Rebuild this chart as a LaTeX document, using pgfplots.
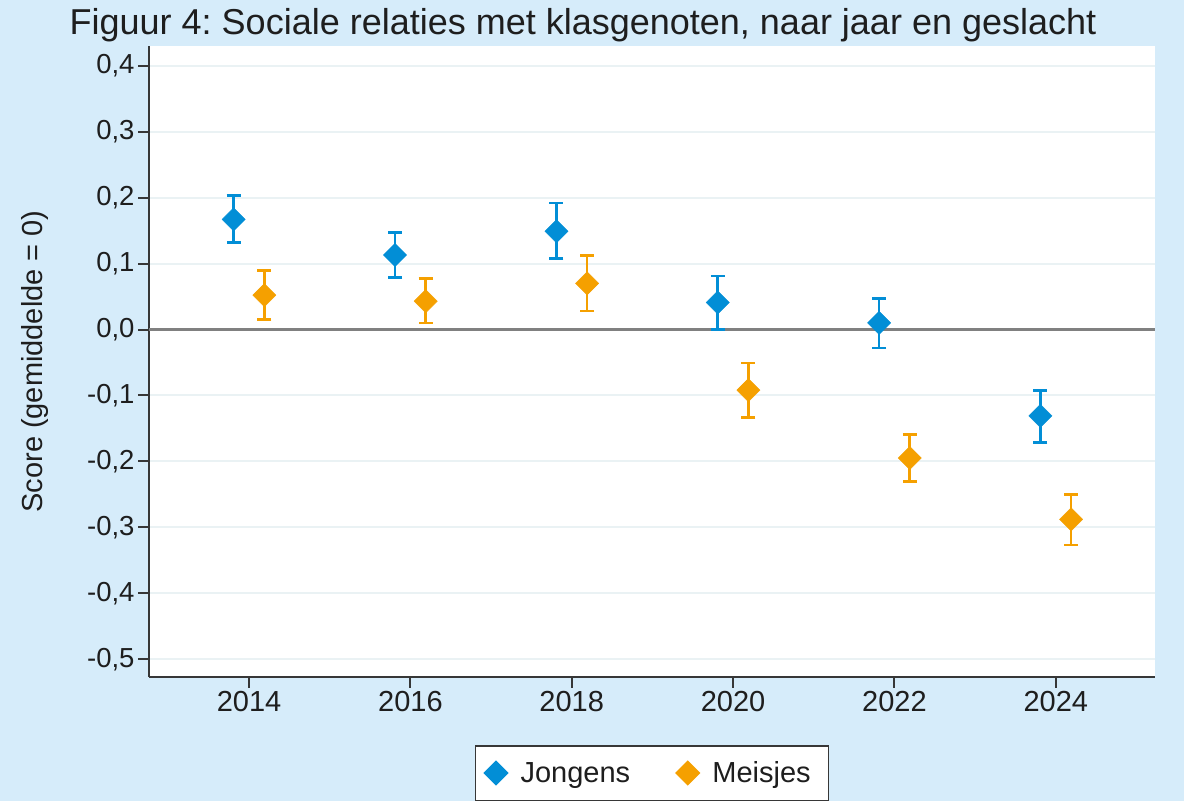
\documentclass[border=0pt]{standalone}
\usepackage{fontspec}
\setmainfont{Liberation Sans}
\usepackage{pgfplots}
\pgfplotsset{compat=1.18}
\usepackage{pgfplotstable}
\definecolor{bgblue}{RGB}{214,236,250}
\definecolor{jblue}{RGB}{2,142,214}
\definecolor{morange}{RGB}{245,160,0}
\definecolor{gridc}{RGB}{234,242,244}
\definecolor{axisc}{RGB}{55,55,55}
\definecolor{txt}{RGB}{30,30,30}

\pgfplotsset{
  diamondlegend/.style={legend image code/.code={\draw[##1] plot coordinates {(0bp,0bp)};}},
}

\pgfplotstableread{
x y ep em
2013.81 0.167 0.036 0.035
2015.81 0.113 0.034 0.034
2017.81 0.149 0.043 0.041
2019.81 0.041 0.040 0.041
2021.81 0.010 0.037 0.038
2023.81 -0.131 0.039 0.040
}\jongens

\pgfplotstableread{
x y ep em
2014.19 0.052 0.038 0.037
2016.19 0.043 0.034 0.033
2018.19 0.070 0.042 0.042
2020.19 -0.092 0.041 0.041
2022.19 -0.195 0.036 0.036
2024.19 -0.288 0.038 0.039
}\meisjes

\begin{document}
\frenchspacing
\begin{tikzpicture}[x=1bp,y=1bp]
\fill[bgblue] (0,0) rectangle (1184,801);
\node[anchor=base, font=\fontsize{36bp}{40bp}\selectfont, text=txt, inner sep=0pt] at (583,766) {Figuur 4: Sociale relaties met klasgenoten, naar jaar en geslacht};
\begin{axis}[
  at={(149bp,124bp)}, anchor=south west,
  scale only axis, width=1006bp, height=631bp,
  xmin=2012.76, xmax=2025.23, ymin=-0.527, ymax=0.43,
  axis background/.style={fill=white},
  axis lines*=left,
  axis line style={axisc, line width=2bp},
  tick align=outside,
  major tick length=11bp,
  tick style={axisc, line width=2bp},
  xtick={2014,2016,2018,2020,2022,2024},
  xticklabels={2014,2016,2018,2020,2022,2024},
  ytick={-0.5,-0.4,-0.3,-0.2,-0.1,0,0.1,0.2,0.3,0.4},
  /pgf/number format/use comma,
  /pgf/number format/fixed,
  /pgf/number format/fixed zerofill,
  /pgf/number format/precision=1,
  /pgf/number format/assume math mode=true,
  ymajorgrids,
  grid style={gridc, line width=2bp},
  x tick label style={font=\fontsize{29bp}{32bp}\selectfont, text=txt},
  y tick label style={font=\fontsize{27.5bp}{30bp}\selectfont, text=txt},
  ylabel={Score (gemiddelde = 0)},
  ylabel style={at={(axis description cs:-0.1054,0.5)}, anchor=base, rotate=0, font=\fontsize{29bp}{32bp}\selectfont, text=txt, inner sep=0pt},
  legend columns=2,
  legend style={at={(axis description cs:0.5,-0.10777)}, anchor=north, draw=axisc, line width=1.5bp, fill=white,
    font=\fontsize{29bp}{32bp}\selectfont, text=txt, inner xsep=9bp, inner ysep=1bp,
    nodes={inner xsep=9bp, inner ysep=15bp},
    /tikz/every odd column/.append style={column sep=4bp},
    /tikz/every even column/.append style={column sep=37bp}},
  clip=false,
]
\addplot[gray, line width=2.5bp, forget plot] coordinates {(2012.76,0) (2025.23,0)};
\addplot[only marks, color=jblue, mark=square*, mark size=8.2bp,
  mark options={rotate=45, draw=none, fill=jblue}, diamondlegend,
  error bars/.cd, y dir=both, y explicit,
  error bar style={line width=2.7bp, jblue},
  error mark options={rotate=90, mark size=7bp, line width=2.7bp, jblue}]
  table[x=x, y=y, y error plus=ep, y error minus=em] {\jongens};
\addlegendentry{Jongens}
\addplot[only marks, color=morange, mark=square*, mark size=8.2bp,
  mark options={rotate=45, draw=none, fill=morange}, diamondlegend,
  error bars/.cd, y dir=both, y explicit,
  error bar style={line width=2.7bp, morange},
  error mark options={rotate=90, mark size=7bp, line width=2.7bp, morange}]
  table[x=x, y=y, y error plus=ep, y error minus=em] {\meisjes};
\addlegendentry{Meisjes}
\end{axis}
\pgfresetboundingbox
\useasboundingbox (0,0) rectangle (1184,801);
\end{tikzpicture}
\end{document}
